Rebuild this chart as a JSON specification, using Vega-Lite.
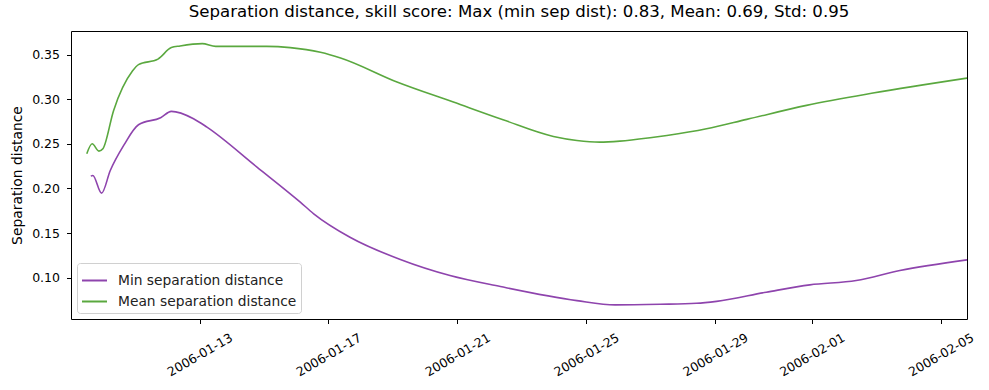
{
  "$schema": "https://vega.github.io/schema/vega-lite/v6.json",
  "autosize": "none",
  "width": 896,
  "height": 288,
  "padding": {"left": 71, "top": 31, "right": 22, "bottom": 71},
  "background": "white",
  "title": {"text": "Separation distance, skill score: Max (min sep dist): 0.83, Mean: 0.69, Std: 0.95", "font": "DejaVu Sans", "fontSize": 16.6, "fontWeight": "normal", "color": "#000", "offset": 10},
  "config": {
    "view": {"stroke": "#000", "strokeWidth": 1},
    "font": "DejaVu Sans"
  },
  "data": {"values": [
    {"t": "2006-01-09T12:00:00Z", "s": "Mean separation distance", "v": 0.2389},
    {"t": "2006-01-09T16:00:00Z", "s": "Mean separation distance", "v": 0.2501},
    {"t": "2006-01-09T21:00:00Z", "s": "Mean separation distance", "v": 0.2418},
    {"t": "2006-01-10T00:00:00Z", "s": "Mean separation distance", "v": 0.2445},
    {"t": "2006-01-10T08:00:00Z", "s": "Mean separation distance", "v": 0.2875},
    {"t": "2006-01-10T22:00:00Z", "s": "Mean separation distance", "v": 0.3316},
    {"t": "2006-01-11T02:30:00Z", "s": "Mean separation distance", "v": 0.3388},
    {"t": "2006-01-11T17:00:00Z", "s": "Mean separation distance", "v": 0.345},
    {"t": "2006-01-12T03:00:00Z", "s": "Mean separation distance", "v": 0.3579},
    {"t": "2006-01-12T09:30:00Z", "s": "Mean separation distance", "v": 0.3597},
    {"t": "2006-01-13T02:00:00Z", "s": "Mean separation distance", "v": 0.3623},
    {"t": "2006-01-13T12:00:00Z", "s": "Mean separation distance", "v": 0.3593},
    {"t": "2006-01-15T02:00:00Z", "s": "Mean separation distance", "v": 0.3593},
    {"t": "2006-01-15T19:30:00Z", "s": "Mean separation distance", "v": 0.3579},
    {"t": "2006-01-16T18:00:00Z", "s": "Mean separation distance", "v": 0.3526},
    {"t": "2006-01-17T09:00:00Z", "s": "Mean separation distance", "v": 0.3462},
    {"t": "2006-01-19T03:00:00Z", "s": "Mean separation distance", "v": 0.3193},
    {"t": "2006-01-20T21:00:00Z", "s": "Mean separation distance", "v": 0.2968},
    {"t": "2006-01-22T10:00:00Z", "s": "Mean separation distance", "v": 0.277},
    {"t": "2006-01-23T23:30:00Z", "s": "Mean separation distance", "v": 0.2583},
    {"t": "2006-01-24T17:00:00Z", "s": "Mean separation distance", "v": 0.2538},
    {"t": "2006-01-25T10:00:00Z", "s": "Mean separation distance", "v": 0.2519},
    {"t": "2006-01-26T01:00:00Z", "s": "Mean separation distance", "v": 0.253},
    {"t": "2006-01-26T23:30:00Z", "s": "Mean separation distance", "v": 0.2568},
    {"t": "2006-01-27T12:00:00Z", "s": "Mean separation distance", "v": 0.2594},
    {"t": "2006-01-28T17:30:00Z", "s": "Mean separation distance", "v": 0.2669},
    {"t": "2006-01-29T23:30:00Z", "s": "Mean separation distance", "v": 0.2774},
    {"t": "2006-01-31T20:00:00Z", "s": "Mean separation distance", "v": 0.2931},
    {"t": "2006-02-02T21:30:00Z", "s": "Mean separation distance", "v": 0.3069},
    {"t": "2006-02-05T19:30:00Z", "s": "Mean separation distance", "v": 0.3237},
    {"t": "2006-01-09T15:00:00Z", "s": "Min separation distance", "v": 0.2138},
    {"t": "2006-01-09T16:30:00Z", "s": "Min separation distance", "v": 0.2145},
    {"t": "2006-01-09T23:00:00Z", "s": "Min separation distance", "v": 0.1947},
    {"t": "2006-01-10T05:30:00Z", "s": "Min separation distance", "v": 0.2201},
    {"t": "2006-01-10T15:30:00Z", "s": "Min separation distance", "v": 0.2482},
    {"t": "2006-01-11T02:30:00Z", "s": "Min separation distance", "v": 0.2714},
    {"t": "2006-01-11T19:00:00Z", "s": "Min separation distance", "v": 0.2793},
    {"t": "2006-01-12T03:00:00Z", "s": "Min separation distance", "v": 0.2864},
    {"t": "2006-01-12T19:30:00Z", "s": "Min separation distance", "v": 0.2782},
    {"t": "2006-01-13T05:30:00Z", "s": "Min separation distance", "v": 0.2687},
    {"t": "2006-01-14T18:45:00Z", "s": "Min separation distance", "v": 0.2239},
    {"t": "2006-01-16T03:00:00Z", "s": "Min separation distance", "v": 0.1846},
    {"t": "2006-01-16T13:00:00Z", "s": "Min separation distance", "v": 0.1716},
    {"t": "2006-01-17T16:00:00Z", "s": "Min separation distance", "v": 0.1453},
    {"t": "2006-01-19T05:30:00Z", "s": "Min separation distance", "v": 0.1203},
    {"t": "2006-01-20T18:30:00Z", "s": "Min separation distance", "v": 0.1023},
    {"t": "2006-01-22T08:00:00Z", "s": "Min separation distance", "v": 0.09},
    {"t": "2006-01-24T17:00:00Z", "s": "Min separation distance", "v": 0.0742},
    {"t": "2006-01-25T21:30:00Z", "s": "Min separation distance", "v": 0.0694},
    {"t": "2006-01-27T07:00:00Z", "s": "Min separation distance", "v": 0.0701},
    {"t": "2006-01-28T10:00:00Z", "s": "Min separation distance", "v": 0.0712},
    {"t": "2006-01-29T01:00:00Z", "s": "Min separation distance", "v": 0.0734},
    {"t": "2006-01-30T14:00:00Z", "s": "Min separation distance", "v": 0.0836},
    {"t": "2006-01-31T22:30:00Z", "s": "Min separation distance", "v": 0.0919},
    {"t": "2006-02-02T09:00:00Z", "s": "Min separation distance", "v": 0.0967},
    {"t": "2006-02-03T17:30:00Z", "s": "Min separation distance", "v": 0.1079},
    {"t": "2006-02-05T19:30:00Z", "s": "Min separation distance", "v": 0.1199}
  ]},
  "mark": {"type": "line", "strokeWidth": 1.6, "interpolate": "monotone", "clip": true},
  "encoding": {
    "x": {
      "field": "t", "type": "temporal",
      "scale": {"type": "utc", "domain": [
        {"year": 2006, "month": 1, "date": 9, "hours": 0, "minutes": 15, "utc": true},
        {"year": 2006, "month": 2, "date": 5, "hours": 19, "minutes": 30, "utc": true}
      ]},
      "axis": {
        "title": null,
        "values": [
          {"year": 2006, "month": 1, "date": 13, "utc": true},
          {"year": 2006, "month": 1, "date": 17, "utc": true},
          {"year": 2006, "month": 1, "date": 21, "utc": true},
          {"year": 2006, "month": 1, "date": 25, "utc": true},
          {"year": 2006, "month": 1, "date": 29, "utc": true},
          {"year": 2006, "month": 2, "date": 1, "utc": true},
          {"year": 2006, "month": 2, "date": 5, "utc": true}
        ],
        "labelExpr": "utcFormat(datum.value, '%Y-%m-%d')",
        "labelAngle": -30, "labelAlign": "center", "labelBaseline": "middle",
        "labelFontSize": 12.5, "labelColor": "#000", "labelPadding": 31,
        "grid": false, "domain": false, "tickColor": "#000", "tickSize": 4.5,
        "labelFlush": false, "labelOverlap": false, "labelBound": false
      }
    },
    "y": {
      "field": "v", "type": "quantitative",
      "scale": {"domain": [0.0536, 0.3765], "zero": false, "nice": false},
      "axis": {
        "title": "Separation distance", "titleFontSize": 13.9, "titleFontWeight": "normal", "titleColor": "#000", "titlePadding": 7,
        "values": [0.10, 0.15, 0.20, 0.25, 0.30, 0.35], "format": ".2f",
        "labelFontSize": 12.5, "labelColor": "#000", "labelPadding": 7,
        "grid": false, "domain": false, "tickColor": "#000", "tickSize": 4.5
      }
    },
    "color": {
      "field": "s", "type": "nominal",
      "scale": {"domain": ["Min separation distance", "Mean separation distance"], "range": ["#8e44ad", "#5aa83f"]},
      "legend": {
        "title": null, "orient": "bottom-left", "offset": 6,
        "symbolType": "stroke", "symbolStrokeWidth": 2, "symbolSize": 625,
        "labelFontSize": 13.8, "labelColor": "#222", "labelLimit": 400,
        "strokeColor": "#d0d0d0", "fillColor": "white", "cornerRadius": 3,
        "padding": 4, "rowPadding": -4, "labelOffset": 10
      }
    }
  }
}
